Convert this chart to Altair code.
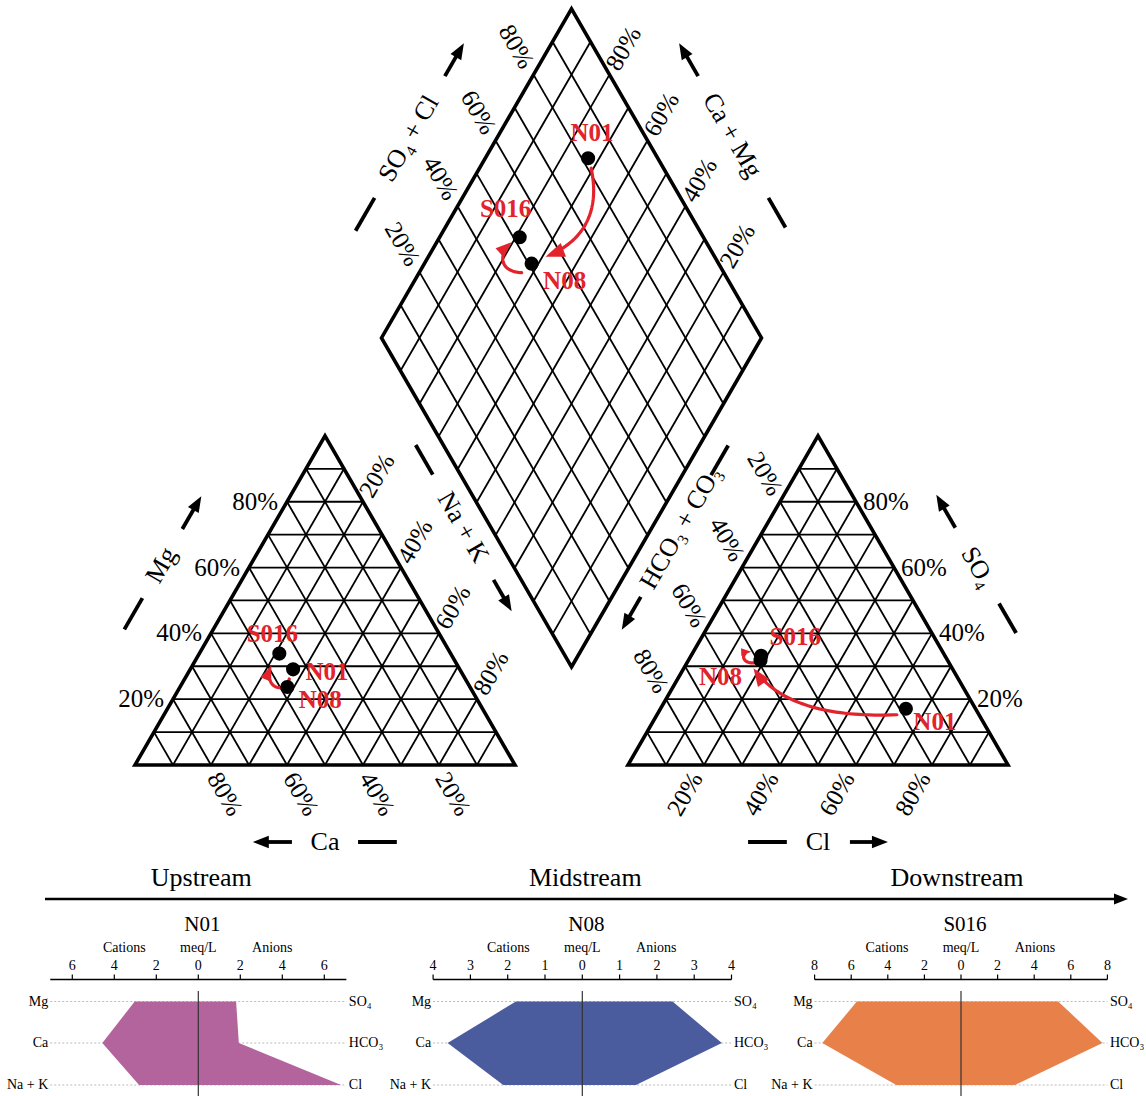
import math
import altair as alt
import pandas as pd

# ---------------- water chemistry (meq/L) ----------------
samples = ["N01", "N08", "S016"]
reaches = ["Upstream", "Midstream", "Downstream"]
mg   = [3.03, 1.78, 5.69]
ca   = [4.57, 3.61, 7.58]
nak  = [2.82, 2.12, 3.54]
so4  = [1.80, 2.42, 5.31]
hco3 = [1.93, 3.74, 7.73]
cl   = [6.80, 1.44, 2.95]

cation_names = ["Mg", "Ca", "Na + K"]
anion_names = ["SO₄", "HCO₃", "Cl"]
stiff_colors = ["#b4649c", "#4a5b9e", "#e8804a"]
stiff_half = [7.05, 4.0, 8.0]
stiff_ticks = [[-6, -4, -2, 0, 2, 4, 6],
               [-4, -3, -2, -1, 0, 1, 2, 3, 4],
               [-8, -6, -4, -2, 0, 2, 4, 6, 8]]
pct_ticks = [20, 40, 60, 80]

# ---------------- layout ----------------
W, H = 1146, 1096
FONT = "Liberation Serif"
RED = "#e3232b"
SIDE = 380.0
TRI_H = SIDE * math.sqrt(3) / 2
CAT_O = (135.0, 765.0)      # lower-left corner of cation triangle
AN_O = (628.0, 765.0)       # lower-left corner of anion triangle
DIA_B = (571.5, 667.0)      # bottom corner of the diamond

STIFF_X0 = [198.3, 582.3, 961.0]
STIFF_UNIT = [21.0, 37.3, 18.3]
STIFF_AXIS_Y = 979.5
STIFF_ROWS_Y = [1001.5, 1043.0, 1085.0]
REACH_SHIFT = [3, 3, -4]


def cat_xy(c, m, n):
    return (CAT_O[0] + (n + m / 2) * SIDE, CAT_O[1] - m * TRI_H)


def an_xy(h, s, c):
    return (AN_O[0] + (c + s / 2) * SIDE, AN_O[1] - s * TRI_H)


def dia_xy(cm, sc):
    return (DIA_B[0] + (sc - cm) * SIDE / 2, DIA_B[1] - (cm + sc) * TRI_H)


def X(field="x"):
    return alt.X(f"{field}:Q", scale=alt.Scale(domain=[0, W], nice=False, zero=False), axis=None)


def Y(field="y"):
    return alt.Y(f"{field}:Q", scale=alt.Scale(domain=[0, H], nice=False, zero=False, reverse=True), axis=None)


def rules(rows, width=1.0, color="black", dash=None, cap="butt"):
    kw = dict(strokeWidth=width, color=color, strokeCap=cap)
    if dash:
        kw["strokeDash"] = dash
    return alt.Chart(pd.DataFrame(rows)).mark_rule(**kw).encode(
        x=X(), y=Y(), x2="x2:Q", y2="y2:Q")


def texts(rows, size, angle=0, align="center", weight="normal", color="black", baseline="middle"):
    return alt.Chart(pd.DataFrame(rows)).mark_text(
        font=FONT, fontSize=size, angle=angle, align=align, baseline=baseline,
        fontWeight=weight, color=color).encode(x=X(), y=Y(), text="label:N")


HEAD_PATH = "M0,0L0.62,1.6L-0.62,1.6Z"


def heads(rows, color):
    return alt.Chart(pd.DataFrame(rows)).mark_point(
        shape=HEAD_PATH, filled=True, color=color, opacity=1, strokeWidth=0).encode(
        x=X(), y=Y(), size=alt.Size("size:Q", scale=None), angle=alt.Angle("angle:Q", scale=None))


def polylines(rows, width, color, join="miter", cap="butt"):
    return alt.Chart(pd.DataFrame(rows)).mark_line(
        strokeWidth=width, color=color, strokeJoin=join, strokeCap=cap).encode(
        x=X(), y=Y(), detail="id:N", order="ord:Q")


def head_angle(dx, dy):
    return math.degrees(math.atan2(dx, -dy)) % 360


def seg(p, q):
    return {"x": p[0], "y": p[1], "x2": q[0], "y2": q[1]}


# ---------------- piper grid ----------------
grid = []
for k in range(1, 10):
    f = k / 10
    grid.append(seg(cat_xy(1 - f, f, 0), cat_xy(0, f, 1 - f)))
    grid.append(seg(cat_xy(f, 1 - f, 0), cat_xy(f, 0, 1 - f)))
    grid.append(seg(cat_xy(1 - f, 0, f), cat_xy(0, 1 - f, f)))
    grid.append(seg(an_xy(1 - f, f, 0), an_xy(0, f, 1 - f)))
    grid.append(seg(an_xy(f, 1 - f, 0), an_xy(f, 0, 1 - f)))
    grid.append(seg(an_xy(1 - f, 0, f), an_xy(0, 1 - f, f)))
    grid.append(seg(dia_xy(f, 0), dia_xy(f, 1)))
    grid.append(seg(dia_xy(0, f), dia_xy(1, f)))

outline_pts = {
    "cat": [cat_xy(1, 0, 0), cat_xy(0, 0, 1), cat_xy(0, 1, 0)],
    "an": [an_xy(1, 0, 0), an_xy(0, 0, 1), an_xy(0, 1, 0)],
    "dia": [dia_xy(0, 0), dia_xy(0, 1), dia_xy(1, 1), dia_xy(1, 0)],
}
outline = []
for name, pts in outline_pts.items():
    closed = pts + pts[:2]
    for i, p in enumerate(closed):
        outline.append({"id": name, "ord": i, "x": p[0], "y": p[1]})

# ---------------- piper tick labels ----------------
lab_h_right, lab_h_left, lab_60, lab_300 = [], [], [], []
for v in pct_ticks:
    f = v / 100
    t = f"{v}%"
    x, y = cat_xy(1 - f, f, 0)
    lab_h_right.append({"x": x - 9, "y": y, "label": t})
    x, y = cat_xy(0, 1 - f, f)
    lab_300.append({"x": x + 14, "y": y - 26, "label": t})
    x, y = cat_xy(f, 0, 1 - f)
    lab_60.append({"x": x + 14, "y": y + 29, "label": t})
    x, y = an_xy(f, 1 - f, 0)
    lab_60.append({"x": x - 15, "y": y - 28, "label": t})
    x, y = an_xy(0, f, 1 - f)
    lab_h_left.append({"x": x + 7, "y": y, "label": t})
    x, y = an_xy(1 - f, 0, f)
    lab_300.append({"x": x - 19, "y": y + 29, "label": t})
    x, y = dia_xy(1, f)
    lab_60.append({"x": x - 17, "y": y - 28, "label": t})
    x, y = dia_xy(f, 1)
    lab_300.append({"x": x + 14, "y": y - 26, "label": t})

# ---------------- axis titles with dash and arrow ----------------
def centroid(pts):
    return (sum(p[0] for p in pts) / len(pts), sum(p[1] for p in pts) / len(pts))


def side_point(p, q, c, t, off):
    dx, dy = q[0] - p[0], q[1] - p[1]
    ln = math.hypot(dx, dy)
    nx, ny = -dy / ln, dx / ln
    mx, my = p[0] + t * dx, p[1] + t * dy
    if (mx - c[0]) * nx + (my - c[1]) * ny < 0:
        nx, ny = -nx, -ny
    return (mx + off * nx, my + off * ny)


cat_c = centroid(outline_pts["cat"])
an_c = centroid(outline_pts["an"])
dia_c = centroid(outline_pts["dia"])
CBL, CBR, CT = cat_xy(1, 0, 0), cat_xy(0, 0, 1), cat_xy(0, 1, 0)
ABL, ABR, AT = an_xy(1, 0, 0), an_xy(0, 0, 1), an_xy(0, 1, 0)
DL, DR, DT = dia_xy(1, 0), dia_xy(0, 1), dia_xy(1, 1)

# (title, angle, p, q, centre, t_title, offset, dash t0/t1, arrow tail/tip)
axis_titles = [
    ("Mg", 300, CBL, CT, cat_c, 0.49, 77, (0.295, 0.39), (0.60, 0.70)),
    ("Na + K", 60, CT, CBR, cat_c, 0.39, 74, (0.14, 0.23), (0.55, 0.645)),
    ("Ca", 0, CBL, CBR, cat_c, 0.50, 77, (0.587, 0.689), (0.413, 0.31)),
    ("SO₄ + Cl", 300, DL, DT, dia_c, 0.49, 76, (0.21, 0.31), (0.68, 0.78)),
    ("Ca + Mg", 60, DR, DT, dia_c, 0.50, 76, (0.22, 0.31), (0.68, 0.78)),
    ("HCO₃ + CO₃", 300, AT, ABL, an_c, 0.39, 73, (0.14, 0.23), (0.60, 0.70)),
    ("SO₄", 60, ABR, AT, an_c, 0.49, 73, (0.29, 0.38), (0.61, 0.71)),
    ("Cl", 0, ABL, ABR, an_c, 0.50, 77, (0.316, 0.418), (0.584, 0.684)),
]
title_rows = {0: [], 60: [], 300: []}
dash_rows, shaft_rows, black_heads = [], [], []
BLACK_HEAD = 16.0
for name, ang, p, q, c, tt, off, dsh, arr in axis_titles:
    x, y = side_point(p, q, c, tt, off)
    title_rows[ang].append({"x": x, "y": y, "label": name})
    dash_rows.append(seg(side_point(p, q, c, dsh[0], off), side_point(p, q, c, dsh[1], off)))
    tail = side_point(p, q, c, arr[0], off)
    tip = side_point(p, q, c, arr[1], off)
    dx, dy = tip[0] - tail[0], tip[1] - tail[1]
    ln = math.hypot(dx, dy)
    ux, uy = dx / ln, dy / ln
    shaft_rows.append(seg(tail, (tip[0] - ux * BLACK_HEAD * 0.7, tip[1] - uy * BLACK_HEAD * 0.7)))
    black_heads.append({"x": tip[0], "y": tip[1], "size": (BLACK_HEAD / 1.6 * 2) ** 2,
                        "angle": head_angle(ux, uy)})

# ---------------- sample positions ----------------
cat_pts, an_pts, dia_pts = {}, {}, {}
for i, s in enumerate(samples):
    ct = mg[i] + ca[i] + nak[i]
    at = so4[i] + hco3[i] + cl[i]
    cat_pts[s] = cat_xy(ca[i] / ct, mg[i] / ct, nak[i] / ct)
    an_pts[s] = an_xy(hco3[i] / at, so4[i] / at, cl[i] / at)
    dia_pts[s] = dia_xy((ca[i] + mg[i]) / ct, (so4[i] + cl[i]) / at)

dots = [{"x": p[0], "y": p[1]} for d in (cat_pts, an_pts, dia_pts) for p in d.values()]

label_offsets = [
    (dia_pts, {"N01": (4, -25), "S016": (-14, -28), "N08": (33, 17)}),
    (cat_pts, {"S016": (-7, -20), "N01": (34, 3), "N08": (33, 13)}),
    (an_pts, {"S016": (34, -19), "N08": (-40, 17), "N01": (29, 13)}),
]
red_labels = []
for pts, offs in label_offsets:
    for s, (dx, dy) in offs.items():
        red_labels.append({"x": pts[s][0] + dx, "y": pts[s][1] + dy, "label": s})


def add(p, d):
    return (p[0] + d[0], p[1] + d[1])


def bezier(p0, p1, p2, p3, n=40):
    out = []
    for i in range(n + 1):
        t = i / n
        a, b, c, d = (1 - t) ** 3, 3 * (1 - t) ** 2 * t, 3 * (1 - t) * t ** 2, t ** 3
        out.append((a * p0[0] + b * p1[0] + c * p2[0] + d * p3[0],
                    a * p0[1] + b * p1[1] + c * p2[1] + d * p3[1]))
    return out


# sequence arrows N01 -> N08 -> S016 (control handles relative to the dots)
red_paths = [
    (add(dia_pts["N01"], (3, 10)), add(dia_pts["N01"], (11, 46)),
     add(dia_pts["N08"], (58, -24)), add(dia_pts["N08"], (14, -7)), 19.0),
    (add(dia_pts["N08"], (-10, 9)), add(dia_pts["N08"], (-32, 8)),
     add(dia_pts["N08"], (-34, -9)), add(dia_pts["S016"], (-8, 5)), 16.0),
    (add(cat_pts["N08"], (2, -8)), add(cat_pts["N08"], (-2, 8)),
     add(cat_pts["N08"], (-25, 1)), add(cat_pts["S016"], (-8, 12)), 15.0),
    (add(an_pts["N01"], (-9, 6)), add(an_pts["N01"], (-86, 9)),
     add(an_pts["N08"], (15, 40)), add(an_pts["N08"], (-7, 8)), 18.0),
    (add(an_pts["N08"], (-3, 2)), add(an_pts["N08"], (-18, 6)),
     add(an_pts["N08"], (-22, -8)), add(an_pts["S016"], (-10, -4)), 10.0),
]
red_lines, red_heads = [], []
for k, (p0, p1, p2, p3, hl) in enumerate(red_paths):
    pts = bezier(p0, p1, p2, p3)
    keep = [p for p in pts if math.hypot(p[0] - p3[0], p[1] - p3[1]) > hl * 0.6]
    for i, p in enumerate(keep):
        red_lines.append({"id": k, "ord": i, "x": p[0], "y": p[1]})
    dx, dy = p3[0] - p2[0], p3[1] - p2[1]
    red_heads.append({"x": p3[0], "y": p3[1], "size": (hl / 1.6 * 2) ** 2,
                      "angle": head_angle(dx, dy)})

# ---------------- flow arrow ----------------
FLOW_Y = 899.0
flow_shaft = [seg((45, FLOW_Y), (1118, FLOW_Y))]
flow_head = [{"x": 1128, "y": FLOW_Y, "size": (14 / 1.6 * 2) ** 2, "angle": 90.0}]
reach_labels = [{"x": STIFF_X0[i] + REACH_SHIFT[i], "y": 878, "label": r}
                for i, r in enumerate(reaches)]

# ---------------- stiff diagrams ----------------
stiff_poly, row_lines, axis_lines, tick_lines, centre_lines = [], [], [], [], []
tick_labels, headers, stiff_titles, left_names, right_names = [], [], [], [], []
for i, s in enumerate(samples):
    x0, u, hr = STIFF_X0[i], STIFF_UNIT[i], stiff_half[i]
    xl, xr = x0 - hr * u, x0 + hr * u
    cats = [mg[i], ca[i], nak[i]]
    ans = [so4[i], hco3[i], cl[i]]
    for j, yy in enumerate(STIFF_ROWS_Y):
        stiff_poly.append({"sample": s, "y": yy, "xl": x0 - cats[j] * u, "xr": x0 + ans[j] * u})
        row_lines.append(seg((xl, yy), (xr, yy)))
        left_names.append({"x": xl - 2, "y": yy, "label": cation_names[j]})
        right_names.append({"x": xr + 2.5, "y": yy, "label": anion_names[j]})
    axis_lines.append(seg((xl, STIFF_AXIS_Y), (xr, STIFF_AXIS_Y)))
    for v in stiff_ticks[i]:
        tick_lines.append(seg((x0 + v * u, STIFF_AXIS_Y - 5), (x0 + v * u, STIFF_AXIS_Y)))
        tick_labels.append({"x": x0 + v * u, "y": 966, "label": str(abs(v))})
    centre_lines.append(seg((x0, 991), (x0, H)))
    headers += [{"x": x0 - 74, "y": 948, "label": "Cations"},
                {"x": x0, "y": 948, "label": "meq/L"},
                {"x": x0 + 74, "y": 948, "label": "Anions"}]
    stiff_titles.append({"x": x0 + 4, "y": 925, "label": s})

stiff_area = alt.Chart(pd.DataFrame(stiff_poly)).mark_area(orient="horizontal", opacity=1).encode(
    y=Y(), x=X("xl"), x2="xr:Q",
    color=alt.Color("sample:N", scale=alt.Scale(domain=samples, range=stiff_colors), legend=None))

dot_layer = alt.Chart(pd.DataFrame(dots)).mark_circle(size=200, color="black", opacity=1).encode(x=X(), y=Y())

layers = [
    rules(grid, width=1.8),
    polylines(outline, 3.6, "black"),
    texts(lab_h_right, 25, align="right"),
    texts(lab_h_left, 25, align="left"),
    texts(lab_60, 25, angle=60),
    texts(lab_300, 25, angle=300),
    texts(title_rows[0], 26),
    texts(title_rows[60], 26, angle=60),
    texts(title_rows[300], 26, angle=300),
    rules(dash_rows, width=3.8),
    rules(shaft_rows, width=3.8),
    heads(black_heads, "black"),
    polylines(red_lines, 3.2, RED, join="round", cap="round"),
    heads(red_heads, RED),
    dot_layer,
    texts(red_labels, 25, weight="bold", color=RED),
    rules(flow_shaft, width=2.6),
    heads(flow_head, "black"),
    texts(reach_labels, 26),
    rules(row_lines, width=0.8, color="#a8a8a8", dash=[2, 2]),
    stiff_area,
    rules(centre_lines, width=1.2, color="#333333"),
    rules(axis_lines, width=1.4),
    rules(tick_lines, width=1.2),
    texts(tick_labels, 14),
    texts(headers, 14),
    texts(stiff_titles, 21),
    texts(left_names, 14, align="right"),
    texts(right_names, 14, align="left"),
]

chart = alt.layer(*layers).properties(
    width=W, height=H, autosize=alt.AutoSizeParams(type="none"), padding=0
).configure_view(stroke=None)

chart.save("out.html", embed_options={"renderer": "svg", "actions": False})
